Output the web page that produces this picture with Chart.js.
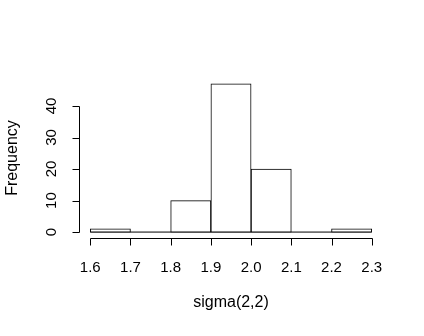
<!DOCTYPE html>
<html><head><meta charset="utf-8">
<script src="https://cdn.jsdelivr.net/npm/chart.js@4/dist/chart.umd.min.js"></script>
<style>html,body{margin:0;padding:0;background:#fff}#c{display:block}</style>
</head><body>
<canvas id="c" width="424" height="336"></canvas>
<script>
const binStarts = [1.6, 1.7, 1.8, 1.9, 2.0, 2.1, 2.2];
const binWidth = 0.1;
const counts = [1, 0, 10, 47, 20, 0, 1];
const xTicks = [1.6, 1.7, 1.8, 1.9, 2.0, 2.1, 2.2, 2.3];
const yTicks = [0, 10, 20, 30, 40];
const xTitle = 'sigma(2,2)';
const yTitle = 'Frequency';

const xLo = binStarts[0], xHi = binStarts[binStarts.length-1] + binWidth;
const yMax = Math.max(...counts);
const xPad = (xHi - xLo) * 0.04, yPad = yMax * 0.04;

const barData = binStarts.map((s, i) => ({x: s + binWidth/2, y: counts[i]}));
const baseData = [{x: xLo, y: 0}, {x: xHi, y: 0}];

const FONT = '"Liberation Sans", Arial, sans-serif';

const rAxes = {
  id: 'rAxes',
  afterDraw(chart) {
    const ctx = chart.ctx, xs = chart.scales.x, ys = chart.scales.y, a = chart.chartArea;
    ctx.save();
    ctx.strokeStyle = '#000'; ctx.fillStyle = '#000'; ctx.lineWidth = 1;
    // x axis
    const yA = Math.round(a.bottom) + 0.5;
    ctx.beginPath();
    ctx.moveTo(Math.round(xs.getPixelForValue(xTicks[0])) + 0.5, yA);
    ctx.lineTo(Math.round(xs.getPixelForValue(xTicks[xTicks.length-1])) + 0.5, yA);
    xTicks.forEach(t => { const px = Math.round(xs.getPixelForValue(t)) + 0.5; ctx.moveTo(px, yA); ctx.lineTo(px, yA + 7); });
    ctx.stroke();
    ctx.font = '15px ' + FONT; ctx.textAlign = 'center'; ctx.textBaseline = 'middle';
    xTicks.forEach(t => ctx.fillText(t.toFixed(1), xs.getPixelForValue(t), 268));
    // y axis
    const xA = Math.round(a.left) + 0.5;
    ctx.beginPath();
    ctx.moveTo(xA, Math.round(ys.getPixelForValue(yTicks[0])) + 0.5);
    ctx.lineTo(xA, Math.round(ys.getPixelForValue(yTicks[yTicks.length-1])) + 0.5);
    yTicks.forEach(t => { const py = Math.round(ys.getPixelForValue(t)) + 0.5; ctx.moveTo(xA, py); ctx.lineTo(xA - 7, py); });
    ctx.stroke();
    yTicks.forEach(t => {
      ctx.save(); ctx.translate(52, ys.getPixelForValue(t)); ctx.rotate(-Math.PI/2);
      ctx.fillText(String(t), 0, 0); ctx.restore();
    });
    // titles
    ctx.font = '16px ' + FONT;
    ctx.fillText(xTitle, (a.left + a.right)/2, 303);
    ctx.save(); ctx.translate(13, (a.top + a.bottom)/2); ctx.rotate(-Math.PI/2);
    ctx.fillText(yTitle, 0, 0); ctx.restore();
    ctx.restore();
  }
};

new Chart(document.getElementById('c'), {
  type: 'bar',
  data: {
    datasets: [
      {type: 'line', data: baseData, borderColor: '#000', borderWidth: 1, pointRadius: 0, fill: false, order: 2},
      {data: barData, backgroundColor: '#fff', borderColor: '#000', borderWidth: 1, borderSkipped: false,
       barPercentage: 1, categoryPercentage: 1, grouped: false, order: 1}
    ]
  },
  options: {
    responsive: false, animation: false, devicePixelRatio: 1,
    layout: {padding: {left: 79, right: 41, top: 78, bottom: 98}},
    plugins: {legend: {display: false}, tooltip: {enabled: false}},
    scales: {
      x: {type: 'linear', offset: false, min: xLo - xPad, max: xHi + xPad, display: false},
      y: {type: 'linear', min: -yPad, max: yMax + yPad, display: false}
    }
  },
  plugins: [rAxes]
});
</script>
</body></html>
